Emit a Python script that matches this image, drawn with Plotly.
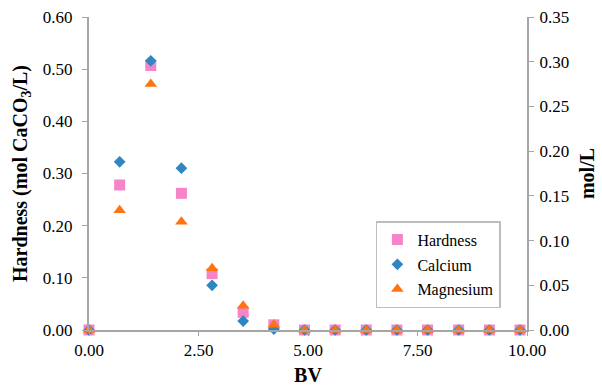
import plotly.graph_objects as go

bv = [0.0, 0.70, 1.41, 2.11, 2.81, 3.52, 4.22, 4.92, 5.62, 6.33, 7.03, 7.73, 8.44, 9.14, 9.84]
hardness = [0.0, 0.278, 0.507, 0.262, 0.108, 0.034, 0.010, 0, 0, 0, 0, 0, 0, 0, 0]
calcium = [0.0, 0.188, 0.301, 0.181, 0.050, 0.010, 0.001, 0, 0, 0, 0, 0, 0, 0, 0]
magnesium = [0.0, 0.134, 0.275, 0.121, 0.069, 0.027, 0.006, 0, 0, 0, 0, 0, 0, 0, 0]

left_ticks = [0.0, 0.1, 0.2, 0.3, 0.4, 0.5, 0.6]
right_ticks = [0.0, 0.05, 0.10, 0.15, 0.20, 0.25, 0.30, 0.35]
x_ticks = [0.0, 2.5, 5.0, 7.5, 10.0]

FONT = "Liberation Serif"
AXIS_COL = "#a6a6a6"

fig = go.Figure()
fig.add_trace(go.Scatter(x=bv, y=hardness, mode="markers", name="Hardness",
                         legendgroup="h",
                         marker=dict(symbol="square", size=11, color="#f684c8"),
                         cliponaxis=False, yaxis="y"))
fig.add_trace(go.Scatter(x=bv, y=calcium, mode="markers", name="Calcium",
                         legendgroup="c",
                         marker=dict(symbol="diamond", size=9, color="#2f86c3"),
                         cliponaxis=False, yaxis="y2"))
fig.add_trace(go.Scatter(x=bv, y=magnesium, mode="markers", name="Magnesium",
                         legendgroup="m",
                         marker=dict(symbol="triangle-up", size=11, color="#ff7411"),
                         cliponaxis=False, yaxis="y2"))

tickfont = dict(family=FONT, size=17, color="black")
titlefont = dict(family=FONT, size=20, color="black")

fig.update_layout(
    template="none",
    width=602, height=386,
    margin=dict(l=89, r=75, t=17, b=56),
    paper_bgcolor="white", plot_bgcolor="white",
    font=dict(family=FONT, size=16, color="black"),
    showlegend=True,
    legend=dict(x=0.655, y=0.348, xanchor="left", yanchor="top",
                bordercolor="#bdbdbd", borderwidth=1.5, bgcolor="white",
                font=dict(family=FONT, size=16, color="black"), tracegroupgap=1,
                itemwidth=30),
    xaxis=dict(range=[0, 10], tickvals=x_ticks,
               ticktext=[f"{v:.2f}" for v in x_ticks], tickfont=tickfont,
               showgrid=False, zeroline=False, showline=True,
               linecolor=AXIS_COL, linewidth=2, ticks="outside",
               tickcolor=AXIS_COL, ticklen=4,
               title=dict(text="<b>BV</b>", font=titlefont, standoff=10)),
    yaxis=dict(range=[0, 0.6], tickvals=left_ticks,
               ticktext=[f"{v:.2f}" for v in left_ticks], tickfont=tickfont,
               showgrid=False, zeroline=False, showline=True,
               linecolor=AXIS_COL, linewidth=2, ticks="outside",
               tickcolor=AXIS_COL, ticklen=5, ticklabelstandoff=6,
               title=dict(text="<b>Hardness (mol CaCO<sub>3</sub>/L)</b>",
                          font=titlefont, standoff=10)),
    yaxis2=dict(range=[0, 0.35], tickvals=right_ticks,
                ticktext=[f"{v:.2f}" for v in right_ticks], tickfont=tickfont,
                overlaying="y", side="right",
                showgrid=False, zeroline=False, showline=True,
                linecolor=AXIS_COL, linewidth=2, ticks="outside",
                tickcolor=AXIS_COL, ticklen=5, ticklabelstandoff=2,
                title=dict(text="<b>mol/L</b>", font=titlefont, standoff=12)),
)

fig.write_html("out.html")
